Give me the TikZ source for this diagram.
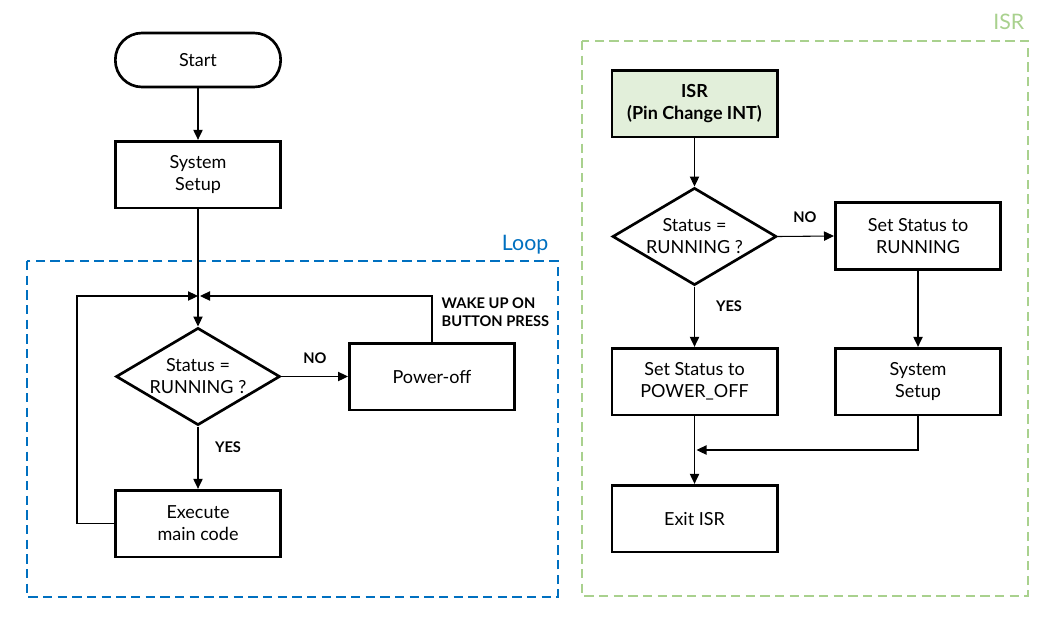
\documentclass[tikz,border=0pt]{standalone}
\usepackage{fontspec}
\setmainfont{Lato}
\usetikzlibrary{shapes.geometric,arrows.meta}
\definecolor{loopblue}{RGB}{0,112,192}
\definecolor{isrgreen}{RGB}{169,209,142}
\definecolor{isrfill}{RGB}{226,239,218}
\begin{document}
\begin{tikzpicture}[x=0.75pt,y=-0.75pt,
  box/.style={draw,line width=2pt,minimum width=124pt,minimum height=50pt,align=center,font=\fontsize{13.5}{16.5}\selectfont,inner sep=0pt},
  term/.style={box,rounded corners=20pt,minimum height=40.5pt},
  dec/.style={draw,line width=2pt,shape=diamond,minimum width=123pt,minimum height=73pt,inner sep=0pt},
  dectext/.style={align=center,font=\fontsize{13.5}{16.5}\selectfont},
  conn/.style={line width=0.8pt,-{Triangle[length=7.5pt,width=7pt]}},
  lab/.style={font=\bfseries\fontsize{11}{13.5}\selectfont},
  group/.style={line width=1.6pt,dash pattern=on 7pt off 4pt},
  grouplab/.style={font=\fontsize{16}{18}\selectfont}]
\useasboundingbox (0,0) rectangle (1062,618);
% groups
\draw[group,loopblue] (27,261) rectangle (558,597);
\node[grouplab,text=loopblue,anchor=east] (looplab) at (553,245) {Loop};
\draw[group,isrgreen] (582,41) rectangle (1028,596);
\node[grouplab,text=isrgreen,anchor=east] (isrlab) at (1029,22) {ISR};
% left flow
\node[term] (start) at (198,60) {Start};
\node[box] (ss) at (198,174.5) {System\\Setup};
\node[dec,label={[dectext]center:Status =\\RUNNING ?}] (d1) at (198,376.5) {};
\node[box] (pw) at (432,376.5) {Power-off};
\node[box] (exec) at (198,523.5) {Execute\\main code};
\coordinate (merge) at (198,296);
\draw[conn] (start) -- (ss);
\draw[conn] (ss) -- (d1.north);
\draw[conn] (d1.east) -- (pw.west);
\node[lab] (no1) at (315,358) {NO};
\draw[conn] (d1.south) -- (exec.north);
\node[lab] (yes1) at (228,447) {YES};
\draw[conn] (exec.west) -- (77,523.5) -- (77,296) -- (merge);
\draw[conn] (pw.north) -- (432,296) -- ([xshift=1.5pt]merge);
\node[lab,anchor=west,align=left] (wake) at (437,312) {WAKE UP ON\\BUTTON PRESS};
% ISR flow
\node[box,fill=isrfill,font=\bfseries\fontsize{13.5}{16.5}\selectfont] (isr) at (694.5,103.5) {ISR\\(Pin Change INT)};
\node[dec,label={[dectext]center:Status =\\RUNNING ?}] (d2) at (694.5,236.5) {};
\node[box] (sr) at (918,236) {Set Status to\\RUNNING};
\node[box] (pf) at (694.5,381.5) {Set Status to\\POWER\_OFF};
\node[box] (ss2) at (918,381.5) {System\\Setup};
\node[box] (exit) at (694.5,518.5) {Exit ISR};
\draw[conn] (isr) -- (d2.north);
\draw[conn] (d2.east) -- (sr.west);
\node[lab] (no2) at (805,217) {NO};
\draw[conn] (d2.south) -- (pf.north);
\node[lab] (yes2) at (729,306) {YES};
\draw[conn] (sr) -- (ss2);
\draw[conn] (pf) -- (exit);
\coordinate (join) at (694.5,450);
\draw[conn] (ss2.south) -- (918,450) -- ([xshift=1.5pt]join);
\end{tikzpicture}
\end{document}
